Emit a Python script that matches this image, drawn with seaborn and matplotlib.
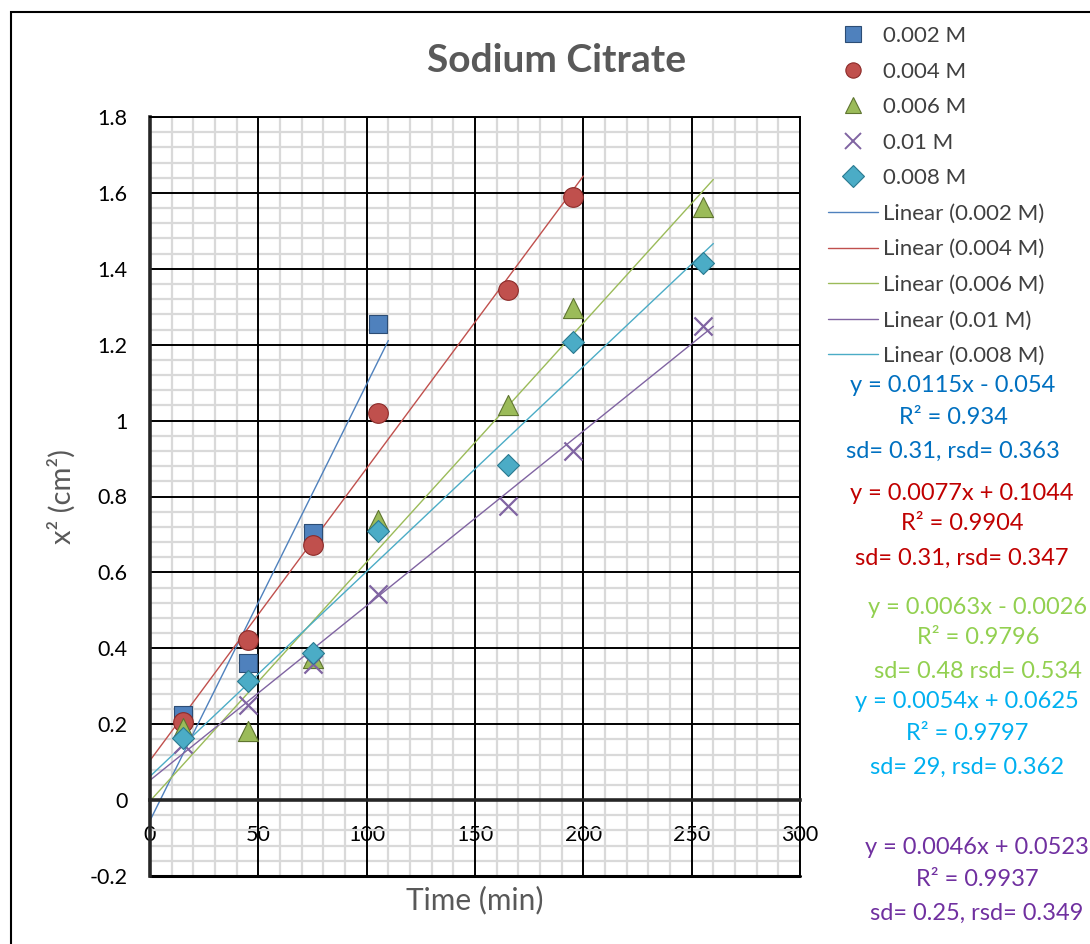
import numpy as np
import seaborn as sns
import matplotlib.pyplot as plt
from matplotlib.lines import Line2D
from matplotlib.patches import Rectangle
from matplotlib.ticker import MultipleLocator

# data
labels = ["0.002 M", "0.004 M", "0.006 M", "0.01 M", "0.008 M"]
times = [15, 45, 75, 105, 165, 195, 255]
vals_002 = [0.225, 0.36, 0.705, 1.255]
vals_004 = [0.205, 0.423, 0.672, 1.021, 1.344, 1.588]
vals_006 = [0.19, 0.183, 0.375, 0.738, 1.041, 1.297, 1.562]
vals_01 = [0.149, 0.25, 0.358, 0.543, 0.775, 0.92, 1.25]
vals_008 = [0.163, 0.314, 0.387, 0.708, 0.883, 1.208, 1.414]
values = [vals_002, vals_004, vals_006, vals_01, vals_008]

# trendlines (from the equations shown)
slopes = [0.0115, 0.0077, 0.0063, 0.0046, 0.0054]
intercepts = [-0.054, 0.1044, -0.0026, 0.0523, 0.0625]
trend_end = [110, 200, 260, 260, 260]

eq_texts = [
    ["y = 0.0115x - 0.054", "R² = 0.934", "sd= 0.31, rsd= 0.363"],
    ["y = 0.0077x + 0.1044", "R² = 0.9904", "sd= 0.31, rsd= 0.347"],
    ["y = 0.0063x - 0.0026", "R² = 0.9796", "sd= 0.48 rsd= 0.534"],
    ["y = 0.0054x + 0.0625", "R² = 0.9797", "sd= 29, rsd= 0.362"],
    ["y = 0.0046x + 0.0523", "R² = 0.9937", "sd= 0.25, rsd= 0.349"],
]
eq_colors = ["#0070C0", "#C00000", "#92D050", "#00B0F0", "#7030A0"]

xticks = [0, 50, 100, 150, 200, 250, 300]
yticks = [-0.2, 0, 0.2, 0.4, 0.6, 0.8, 1, 1.2, 1.4, 1.6, 1.8]
ytick_labels = ["-0.2", "0", "0.2", "0.4", "0.6", "0.8", "1", "1.2", "1.4", "1.6", "1.8"]

colors = ["#4F81BD", "#C0504D", "#9BBB59", "#8064A2", "#4BACC6"]
edges = ["#2C4D75", "#8C2A28", "#5F7530", "#8064A2", "#2A7A90"]
markers = ["s", "o", "^", "x", "D"]
sizes = [180, 200, 210, 170, 125]

sns.set_style("white")
plt.rcParams["font.family"] = ["Lato", "DejaVu Sans"]

W, H = 1090, 944
fig = plt.figure(figsize=(W / 100, H / 100), dpi=100)
ax = fig.add_axes([150 / W, 68 / H, 650 / W, 759 / H])

# minor grid underneath, major grid drawn on top of it
ax.xaxis.set_minor_locator(MultipleLocator(10))
ax.yaxis.set_minor_locator(MultipleLocator(0.04))
ax.grid(which="minor", color="#D9D9D9", lw=1.6, zorder=0)
ax.grid(which="major", visible=False)
for xv in xticks[1:]:
    ax.axvline(xv, color="black", lw=1.4, zorder=1)
for yv in yticks[1:]:
    ax.axhline(yv, color="black", lw=1.4, zorder=1)
ax.set_axisbelow(True)

# trendlines
for i in range(5):
    xs = np.array([0, trend_end[i]])
    sns.lineplot(x=xs, y=slopes[i] * xs + intercepts[i], color=colors[i], lw=1,
                 ax=ax, zorder=2)

# points
for i in range(5):
    t = times[:len(values[i])]
    if markers[i] == "x":
        sns.scatterplot(x=t, y=values[i], marker="x", s=sizes[i], color=colors[i],
                        linewidth=1.6, ax=ax, zorder=3)
    else:
        sns.scatterplot(x=t, y=values[i], marker=markers[i], s=sizes[i], color=colors[i],
                        edgecolor=edges[i], linewidth=0.8, ax=ax, zorder=3)

ax.set_xlim(0, 300)
ax.set_ylim(-0.2, 1.8)
ax.set_xticks(xticks)
ax.set_xticklabels([str(v) for v in xticks])
ax.set_yticks(yticks)
ax.set_yticklabels(ytick_labels)
ax.tick_params(axis="both", which="minor", length=0)
ax.tick_params(axis="x", which="major", direction="out", length=5, width=2, pad=13,
               labelsize=15.5, colors="black")
ax.tick_params(axis="y", which="major", direction="out", length=6, width=2, pad=10,
               labelsize=15.5, colors="black")

ax.spines["bottom"].set_position(("data", 0))
ax.spines["bottom"].set_linewidth(2.6)
ax.spines["left"].set_linewidth(2.6)
for s in ["top", "right"]:
    ax.spines[s].set_linewidth(1.4)
    ax.spines[s].set_color("black")
ax.axhline(-0.2, color="black", lw=2.2, clip_on=False, zorder=1)
ax.set_xlabel("")
ax.set_ylabel("")

# labels & title
fig.text(557 / W, 1 - 60 / H, "Sodium Citrate", ha="center", va="center",
         fontsize=28, fontweight="bold", color="#595959")
fig.text(475 / W, 1 - 900 / H, "Time (min)", ha="center", va="center",
         fontsize=21.5, color="#595959")
fig.text(62 / W, 1 - 497 / H, "x² (cm²)", ha="center", va="center",
         fontsize=21, color="#595959", rotation=90)

# legend
handles = []
for i in range(5):
    if markers[i] == "x":
        handles.append(Line2D([], [], ls="none", marker="x", ms=12, mew=1.4,
                              color=colors[i]))
    else:
        handles.append(Line2D([], [], ls="none", marker=markers[i], ms=11,
                              mfc=colors[i], mec=edges[i], mew=0.8))
for i in range(5):
    handles.append(Line2D([], [], color=colors[i], lw=1))
leg_labels = labels + [f"Linear ({l})" for l in labels]
fig.legend(handles, leg_labels, loc="upper left", bbox_to_anchor=(828 / W, 1 - 26 / H),
           frameon=False, fontsize=16, handlelength=2.25, handletextpad=0.22,
           labelspacing=0.7, labelcolor="#404040", borderaxespad=0, borderpad=0)

# equation annotations
eq_x = [953, 962, 978, 967, 977]
eq_y = [[386, 417, 451], [493, 524, 558], [607, 638, 672], [702, 733, 767], [848, 880, 913]]
for i in range(5):
    for j in range(3):
        fig.text(eq_x[i] / W, 1 - eq_y[i][j] / H, eq_texts[i][j], ha="center",
                 va="center", fontsize=17, color=eq_colors[i])

# outer chart border
fig.patches.append(Rectangle((11 / W, -0.1), 1.2, 1 - 12 / H + 0.1, transform=fig.transFigure,
                             fill=False, ec="black", lw=1.5))

fig.savefig("out.png", dpi=100)
